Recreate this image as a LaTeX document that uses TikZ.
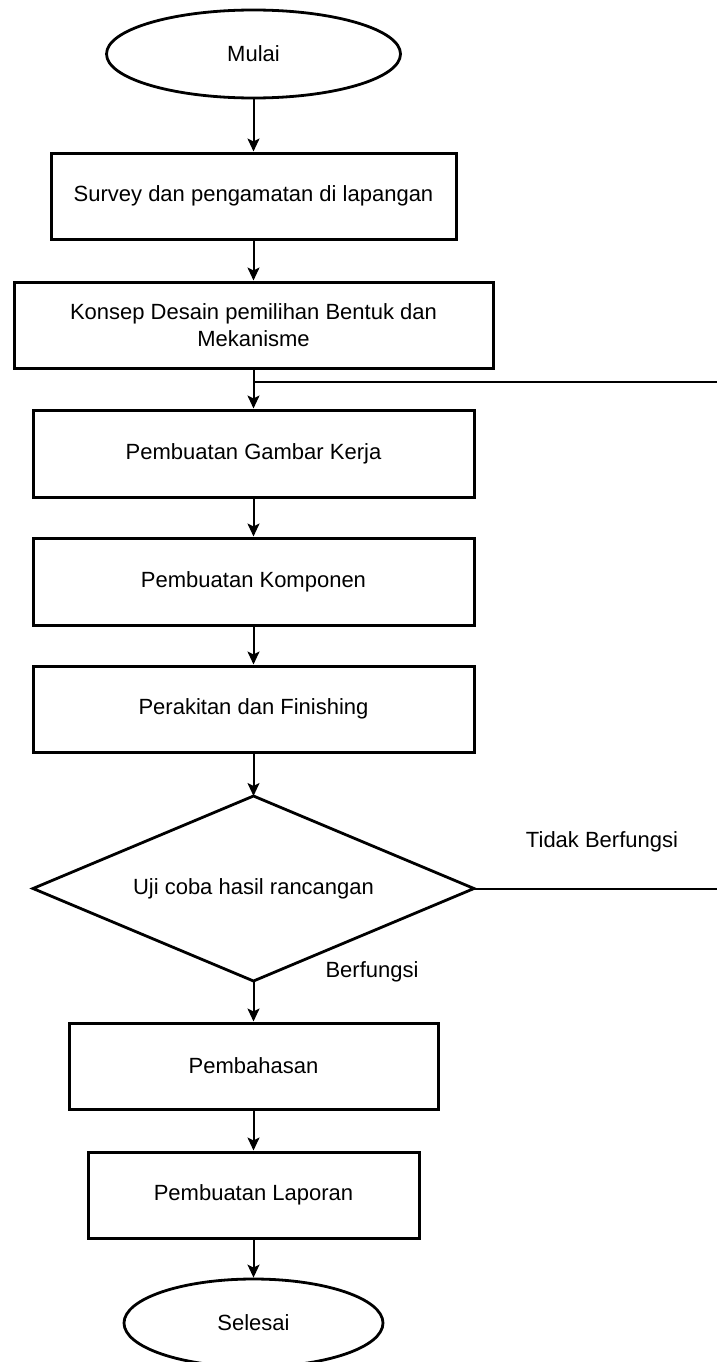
\documentclass[tikz,border=0pt]{standalone}
\usepackage{fontspec}
\setmainfont{Liberation Sans}
\usetikzlibrary{shapes.geometric,arrows.meta}
\begin{document}
\begin{tikzpicture}[x=1pt,y=-1pt,
  every node/.style={font=\fontsize{22}{27}\selectfont, text=black},
  stepbox/.style={draw, line width=3pt, rectangle, inner sep=0pt, minimum height=86pt, align=center},
  term/.style={draw, line width=2.8pt, ellipse, inner sep=0pt, minimum height=88pt},
  decisionline/.style={draw, line width=2.8pt, line join=miter},
  flow/.style={line width=2pt, -{Stealth[length=13pt,width=12pt,inset=3pt]}},
  plain/.style={line width=2pt}
]
\useasboundingbox (0,0) rectangle (717,1362);
\node[term, minimum width=294pt] (mulai) at (253.5,54) {Mulai};
\node[stepbox, minimum width=405pt] (b1) at (253.5,196) {Survey dan pengamatan di lapangan};
\node[stepbox, minimum width=479pt] (b2) at (253.5,325) {Konsep Desain pemilihan Bentuk dan\\Mekanisme};
\node[stepbox, minimum width=441pt, minimum height=87pt] (b3) at (253.5,453.5) {Pembuatan Gambar Kerja};
\node[stepbox, minimum width=441pt, minimum height=87pt] (b4) at (253.5,581.5) {Pembuatan Komponen};
\node[stepbox, minimum width=441pt] (b5) at (253.5,709) {Perakitan dan Finishing};
% decision
\node (uji) at (253.5,888.5) {Uji coba hasil rancangan};
\coordinate (ujiN) at (253.5,796);
\coordinate (ujiE) at (474,888.5);
\coordinate (ujiS) at (253.5,981);
\coordinate (ujiW) at (33,888.5);
\draw[decisionline] (ujiN) -- (ujiE) -- (ujiS) -- (ujiW) -- cycle;
\node (tidak) at (602,842) {Tidak Berfungsi};
\node (ya) at (372,972) {Berfungsi};
\node[stepbox, minimum width=369pt] (b6) at (253.5,1066) {Pembahasan};
\node[stepbox, minimum width=331pt] (b7) at (253.5,1195) {Pembuatan Laporan};
\node[term, minimum width=259pt] (selesai) at (253.5,1323) {Selesai};

\coordinate (j1) at (253.5,382);
\coordinate (e1) at (717,382);
\coordinate (e2) at (717,888.5);

\draw[flow] (mulai.south) -- (b1.north);
\draw[flow] (b1) -- (b2);
\draw[flow] (b2) -- (b3);
\draw[plain] (j1) -- (e1);
\draw[flow] (b3) -- (b4);
\draw[flow] (b4) -- (b5);
\draw[flow] (b5.south) -- (ujiN);
\draw[plain] (ujiE) -- (e2);
\draw[flow] (ujiS) -- (b6.north);
\draw[flow] (b6) -- (b7);
\draw[flow] (b7.south) -- (selesai.north);
\end{tikzpicture}
\end{document}
